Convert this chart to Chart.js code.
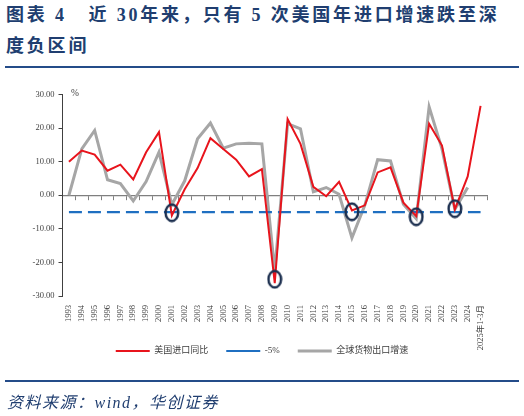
<!DOCTYPE html>
<html>
<head>
<meta charset="utf-8">
<script src="https://cdn.jsdelivr.net/npm/chart.js"></script>
<style>
  html, body { margin: 0; padding: 0; background: #fff; }
  body { width: 524px; height: 416px; position: relative; overflow: hidden; }
  #title { position: absolute; left: 6px; top: 0px; font-family: "Liberation Serif", "Noto Sans CJK SC", serif; font-weight: bold; font-size: 18px; line-height: 31px; letter-spacing: 2.8px; color: #203E70; white-space: nowrap; }
  .rule { position: absolute; left: 5px; width: 514px; height: 2px; background: #244C89; }
  #chartBox { position: absolute; left: 0; top: 70px; width: 524px; height: 333px; }
  #pct { position: absolute; left: 71px; top: 88px; font-family: "Liberation Serif", serif; font-size: 9.5px; color: #404040; }
  #source { position: absolute; left: 7px; top: 389px; font-family: "Liberation Serif", "Noto Sans CJK SC", serif; font-style: italic; font-size: 16px; letter-spacing: 1.5px; color: #203E70; white-space: nowrap; }
</style>
</head>
<body>
<div id="title">图表&nbsp;4&nbsp;&nbsp;&nbsp;近&nbsp;30年来，只有&nbsp;5&nbsp;次美国年进口增速跌至深<br>度负区间</div>
<div class="rule" style="top:66px"></div>
<div id="chartBox"><canvas id="c"></canvas></div>
<div id="pct">%</div>
<div class="rule" style="top:380px"></div>
<div id="source">资料来源：wind，华创证券</div>
<script>
const years = ['1993','1994','1995','1996','1997','1998','1999','2000','2001','2002','2003','2004','2005','2006','2007','2008','2009','2010','2011','2012','2013','2014','2015','2016','2017','2018','2019','2020','2021','2022','2023','2024','2025年1-3月'];
const usImports = [10.0,13.3,12.1,7.3,9.1,4.7,12.8,18.8,-6.0,1.8,8.1,17.0,13.8,10.6,5.6,7.8,-26.2,22.7,15.3,2.5,-0.3,4.0,-4.5,-3.0,6.8,8.3,-2.2,-6.2,21.3,14.8,-4.2,5.6,26.6];
const globalExports = [0.0,13.8,19.3,4.6,3.5,-1.7,4.1,12.8,-2.8,4.3,16.8,21.5,14.0,15.3,15.5,15.3,-22.5,21.3,19.8,1.0,2.3,0.3,-12.7,-3.0,10.6,10.2,-2.7,-7.0,26.3,13.8,-4.2,2.3,null];
const threshold = [-5,-5,-5,-5,-5,-5,-5,-5,-5,-5,-5,-5,-5,-5,-5,-5,-5,-5,-5,-5,-5,-5,-5,-5,-5,-5,-5,-5,-5,-5,-5,-5,-5];
const circleYears = ['2001','2009','2015','2020','2023'];
const circleValues = [-5.2,-25.0,-4.9,-6.4,-4.0];
const yTicks = [-30,-20,-10,0,10,20,30];

const circleData = years.map(y => { const k = circleYears.indexOf(y); return k >= 0 ? circleValues[k] : null; });

const ell = document.createElement('canvas');
ell.width = 16; ell.height = 20;
(function(){ const g = ell.getContext('2d'); g.strokeStyle = '#1C2F4F'; g.lineWidth = 2.4; g.beginPath(); g.ellipse(8, 10, 6.3, 8.3, 0, 0, Math.PI*2); g.stroke(); })();

const legendPlace = {
  id: 'legendPlace',
  afterLayout(chart) {
    const l = chart.legend;
    if (!l) return;
    const h = l.bottom - l.top;
    l.top = 328.5 - 70;
    l.bottom = l.top + h;
  }
};

const tickFont = { family: "'Liberation Serif', 'Noto Sans CJK SC', serif", size: 8.5 };
new Chart(document.getElementById('c'), {
  type: 'line',
  data: {
    labels: years,
    datasets: [
      { label: 'circles', data: circleData, showLine: false, pointStyle: ell, pointRadius: 8, pointHoverRadius: 8, borderColor: '#1C2F4F', backgroundColor: 'rgba(0,0,0,0)' },
      { label: '美国进口同比', data: usImports, borderColor: '#E8141C', backgroundColor: '#E8141C', borderWidth: 2, pointRadius: 0, tension: 0 },
      { label: '-5%', data: threshold, borderColor: '#1F6FC1', backgroundColor: '#1F6FC1', borderWidth: 2.2, borderDash: [13, 6], pointRadius: 0, tension: 0 },
      { label: '全球货物出口增速', data: globalExports, borderColor: '#A6A6A6', backgroundColor: '#A6A6A6', borderWidth: 3, pointRadius: 0, tension: 0 }
    ]
  },
  plugins: [legendPlace],
  options: {
    responsive: true,
    maintainAspectRatio: false,
    animation: false,
    layout: { padding: { top: 24.5, right: 0, bottom: 0, left: 0 } },
    plugins: {
      tooltip: { enabled: false },
      legend: {
        position: 'bottom',
        labels: {
          usePointStyle: true, pointStyle: 'line', pointStyleWidth: 34, boxHeight: 9,
          padding: 18, color: '#3C3C3C',
          font: { family: "'Liberation Serif', 'Noto Sans CJK SC', serif", size: 9 },
          filter: (item) => item.datasetIndex !== 0
        }
      }
    },
    scales: {
      x: {
        type: 'category', position: 'bottom', offset: true,
        grid: { display: false }, border: { display: false },
        ticks: { autoSkip: false, minRotation: 90, maxRotation: 90, padding: 1, color: '#404040', font: tickFont },
        afterFit: (s) => { s.height = 70; }
      },
      x2: {
        type: 'category', labels: years, offset: true, position: { y: 0 },
        grid: { display: true, drawOnChartArea: false, drawTicks: true, tickLength: 4, offset: true, color: '#7F7F7F', lineWidth: 1 },
        border: { display: true, color: '#7F7F7F', width: 1.2 },
        ticks: { display: false }
      },
      y: {
        min: -30, max: 30,
        afterBuildTicks: (s) => { s.ticks = yTicks.map(v => ({ value: v })); },
        grid: { display: true, drawOnChartArea: false, drawTicks: true, tickLength: 4, color: '#404040' },
        border: { display: true, color: '#404040', width: 1 },
        ticks: { padding: 4, color: '#404040', font: tickFont, callback: (v) => Number(v).toFixed(2) },
        afterFit: (s) => { s.width = 62.5; }
      },
      yRight: {
        type: 'linear', position: 'right', min: -30, max: 30,
        grid: { display: false }, border: { display: false },
        ticks: { display: false },
        afterFit: (s) => { s.width = 37; }
      }
    }
  }
});
</script>
</body>
</html>
